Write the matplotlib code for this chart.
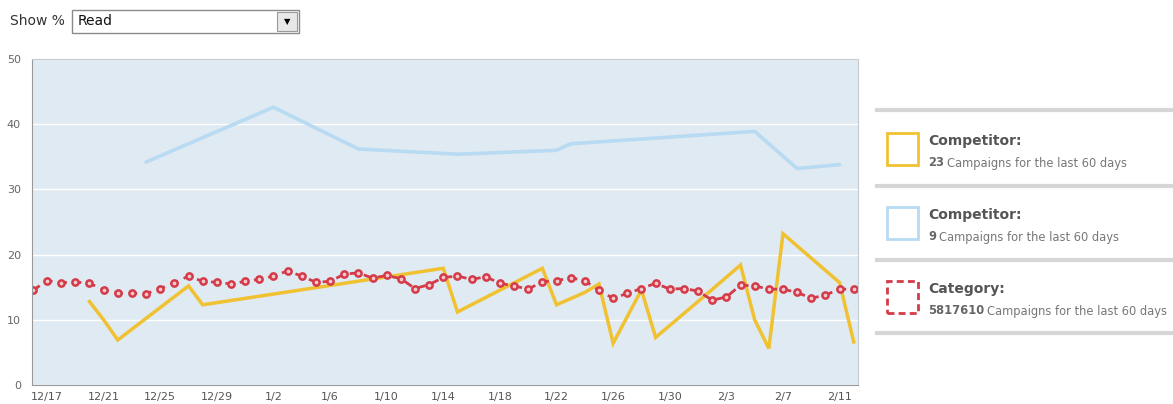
import numpy as np
import matplotlib.pyplot as plt
from matplotlib.patches import Rectangle
from matplotlib.lines import Line2D

# x values are days counted from 12/17
tick_days = [0, 4, 8, 12, 16, 20, 24, 28, 32, 36, 40, 44, 48, 52, 56]
tick_labels = ["12/17", "12/21", "12/25", "12/29", "1/2", "1/6", "1/10", "1/14",
               "1/18", "1/22", "1/26", "1/30", "2/3", "2/7", "2/11"]

category_days = list(range(-1, 58))
category_vals = [14.5, 16.0, 15.7, 15.8, 15.6, 14.6, 14.1, 14.1, 14.0, 14.8,
                 15.7, 16.7, 15.9, 15.75, 15.5, 15.9, 16.2, 16.7, 17.5, 16.7,
                 15.75, 15.9, 17.0, 17.2, 16.4, 16.8, 16.3, 14.8, 15.4, 16.5,
                 16.7, 16.2, 16.6, 15.6, 15.2, 14.7, 15.85, 16.0, 16.45, 16.0,
                 14.5, 13.3, 14.05, 14.8, 15.6, 14.7, 14.8, 14.4, 13.0, 13.5,
                 15.3, 15.2, 14.7, 14.7, 14.2, 13.3, 13.8, 14.7, 14.7]

comp23_days = [3, 4, 5, 10, 11, 28, 29, 35, 36, 38, 39, 40, 42, 43, 46, 49, 50, 51, 52, 56, 57]
comp23_vals = [12.8, 10.0, 6.9, 15.2, 12.3, 17.9, 11.2, 17.9, 12.3, 14.2, 15.5,
               6.4, 14.6, 7.3, 12.8, 18.4, 10.0, 5.6, 23.2, 15.7, 6.6]

comp9_days = [7, 16, 22, 29, 36, 37, 50, 53, 56]
comp9_vals = [34.2, 42.6, 36.2, 35.4, 36.0, 37.0, 38.9, 33.2, 33.8]

legend_titles = ["Competitor:", "Competitor:", "Category:"]
legend_counts = ["23", "9", "5817610"]
legend_colors = ["#f0c232", "#b8daf2", "#d43a48"]

W, H = 1173, 404
fig = plt.figure(figsize=(W / 100, H / 100), dpi=100)
fig.patch.set_facecolor("white")

ax = fig.add_axes([32 / W, 1 - 385 / H, 826 / W, 326 / H])
ax.set_facecolor("#dfeaf2")
ax.set_xlim(-1.06, 57.3)
ax.set_ylim(0, 50)
ax.set_yticks([0, 10, 20, 30, 40, 50])
ax.set_xticks(tick_days)
ax.set_xticklabels(tick_labels)
ax.tick_params(axis="y", length=0, labelsize=8, labelcolor="#666666", pad=8)
ax.tick_params(axis="x", length=0, labelsize=8, labelcolor="#555555", pad=5)
ax.grid(axis="y", color="white", lw=1)
ax.set_axisbelow(True)
for s in ax.spines.values():
    s.set_color("#c4ccd2")
ax.spines["left"].set_color("#999999")
ax.spines["bottom"].set_color("#999999")

ax.plot(comp9_days, comp9_vals, color="#b8daf2", lw=2.6, solid_capstyle="round")
ax.plot(comp23_days, comp23_vals, color="#f0c232", lw=2.5, solid_joinstyle="miter")
ax.plot(category_days, category_vals, color="#d43a48", lw=2, ls=(0, (3, 2.2)),
        marker="o", ms=4.5, mfc="#f4c9cd", mec="#d43a48", mew=1.8)

# "Show %" dropdown
fig.text(10 / W, 1 - 21 / H, "Show %", fontsize=10, color="#333333", va="center")
fig.patches.append(Rectangle((72 / W, 1 - 33 / H), 227 / W, 23 / H, transform=fig.transFigure,
                             fc="white", ec="#8a8a8a", lw=1))
fig.patches.append(Rectangle((277 / W, 1 - 31 / H), 20 / W, 19 / H, transform=fig.transFigure,
                             fc="#e8e8e8", ec="#9a9a9a", lw=0.8))
fig.text(287 / W, 1 - 22 / H, "\u25bc", fontsize=6, color="black", ha="center", va="center")
fig.text(78 / W, 1 - 21 / H, "Read", fontsize=10, color="#111111", va="center")

# legend panel on the right
for yy in [110, 186, 260, 333]:
    fig.lines.append(Line2D([877 / W, 1], [1 - yy / H] * 2, transform=fig.transFigure,
                            color="#d6d6d6", lw=3))

fig.canvas.draw()
renderer = fig.canvas.get_renderer()
for i in range(3):
    top = 133 + i * 74
    ls = "-" if i < 2 else (0, (2.5, 1.5))
    fig.patches.append(Rectangle((887 / W, 1 - (top + 32) / H), 31 / W, 32 / H,
                                 transform=fig.transFigure, fc="none",
                                 ec=legend_colors[i], lw=2, ls=ls))
    fig.text(928 / W, 1 - (top + 8) / H, legend_titles[i], fontsize=10, fontweight="bold",
             color="#555555", va="center")
    t = fig.text(928 / W, 1 - (top + 30) / H, legend_counts[i], fontsize=8.3, fontweight="bold",
                 color="#666666", va="center")
    bb = t.get_window_extent(renderer)
    fig.text((bb.x1 + 3) / W, 1 - (top + 30) / H, "Campaigns for the last 60 days",
             fontsize=8.3, color="#777777", va="center")

fig.savefig("out.png", dpi=100)
